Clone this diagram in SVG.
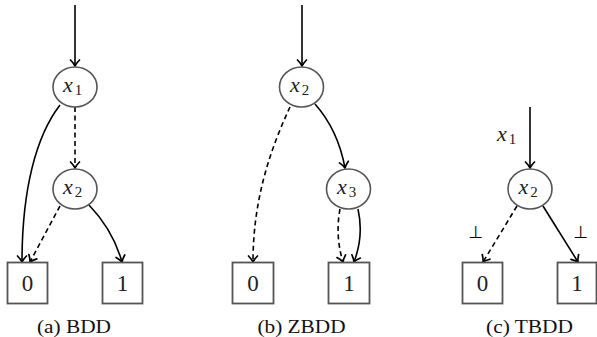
<svg xmlns="http://www.w3.org/2000/svg" width="597" height="337" viewBox="0 0 597 337">
<style>
.node{fill:#fff;stroke:#555;stroke-width:1.6}
.box{fill:#fff;stroke:#555;stroke-width:1.8}
.e{fill:none;stroke:#000;stroke-width:1.6;marker-end:url(#ah)}
.d{stroke-dasharray:5,3.5}
.lab{font-size:22px;fill:#222}
.var{font-style:italic}
.sub{font-size:15px;font-style:normal}
.dig{font-size:23px;text-anchor:middle;fill:#222}
.cap{font-size:18.5px;text-anchor:middle;fill:#111}
.bot{font-size:17px;text-anchor:middle;fill:#000}
</style>
<defs>
<marker id="ah" markerUnits="userSpaceOnUse" orient="auto" refX="0" refY="0" markerWidth="12" markerHeight="12" viewBox="-7 -6 9 12" overflow="visible">
<path d="M-6,-4.5 C-3.4,-1.9 -1.3,-0.6 0,0 C-1.3,0.6 -3.4,1.9 -6,4.5" fill="none" stroke="#000" stroke-width="1.7" stroke-linecap="round" stroke-linejoin="round"/>
</marker>
</defs>
<g id="connectors">
<path class="e" d="M75,5 L75,66"/>
<path class="e" d="M60,105 C36,136 22,190 22,262"/>
<path class="e d" d="M75,107 L75,168"/>
<path class="e d" d="M60,206 L30,262"/>
<path class="e" d="M89,205 Q113,230 122,262"/>
<path class="e" d="M302,5 L302,66"/>
<path class="e d" d="M290,107 C270,150 253,200 253,262"/>
<path class="e" d="M315,104 Q338,130 345,168"/>
<path class="e d" d="M340,209 Q335,236 343,262"/>
<path class="e" d="M358,209 Q364,236 354,262"/>
<path class="e" d="M530,107 L530,168"/>
<path class="e d" d="M517,206 L483,262"/>
<path class="e" d="M543,206 L578,262"/>
</g>
<g font-family="'Liberation Serif','Times New Roman','DejaVu Serif',serif">
<g id="a_x1"><ellipse class="node" cx="75" cy="87" rx="22" ry="20"/><text class="lab" x="63" y="92"><tspan class="var">x</tspan><tspan class="sub" dx="2" dy="3">1</tspan></text></g>
<g id="a_x2"><ellipse class="node" cx="75" cy="189" rx="22" ry="20"/><text class="lab" x="63" y="194"><tspan class="var">x</tspan><tspan class="sub" dx="2" dy="3">2</tspan></text></g>
<g id="a_0"><rect class="box" x="7.5" y="262.5" width="40" height="41"/><text class="dig" x="27.5" y="291">0</text></g>
<g id="a_1"><rect class="box" x="102.5" y="262.5" width="40" height="41"/><text class="dig" x="122.5" y="291">1</text></g>
<text class="cap" x="74" y="333" textLength="74" lengthAdjust="spacingAndGlyphs">(a) BDD</text>
<g id="b_x2"><ellipse class="node" cx="301.5" cy="87" rx="22" ry="20"/><text class="lab" x="290" y="92"><tspan class="var">x</tspan><tspan class="sub" dx="2" dy="3">2</tspan></text></g>
<g id="b_x3"><ellipse class="node" cx="348.5" cy="189" rx="22" ry="20"/><text class="lab" x="337" y="194"><tspan class="var">x</tspan><tspan class="sub" dx="2" dy="3">3</tspan></text></g>
<g id="b_0"><rect class="box" x="232.5" y="262.5" width="41" height="41"/><text class="dig" x="253" y="291">0</text></g>
<g id="b_1"><rect class="box" x="328.5" y="262.5" width="41" height="41"/><text class="dig" x="349" y="291">1</text></g>
<text class="cap" x="301.5" y="333" textLength="88" lengthAdjust="spacingAndGlyphs">(b) ZBDD</text>
<g id="c_x2"><ellipse class="node" cx="530" cy="189" rx="22" ry="20"/><text class="lab" x="518.5" y="194"><tspan class="var">x</tspan><tspan class="sub" dx="2" dy="3">2</tspan></text></g>
<g id="c_0"><rect class="box" x="462.5" y="262.5" width="40" height="41"/><text class="dig" x="482.5" y="291">0</text></g>
<g id="c_1"><rect class="box" x="557.5" y="262.5" width="39" height="41"/><text class="dig" x="577" y="291">1</text></g>
<text class="lab" x="497" y="141"><tspan class="var">x</tspan><tspan class="sub" dx="2" dy="3">1</tspan></text>
<text class="cap" x="529.5" y="333" textLength="87" lengthAdjust="spacingAndGlyphs">(c) TBDD</text>
</g>
<g font-family="'DejaVu Sans','DejaVu Serif',sans-serif">
<text class="bot" x="476" y="238">⊥</text>
<text class="bot" x="581" y="238">⊥</text>
</g>
</svg>
